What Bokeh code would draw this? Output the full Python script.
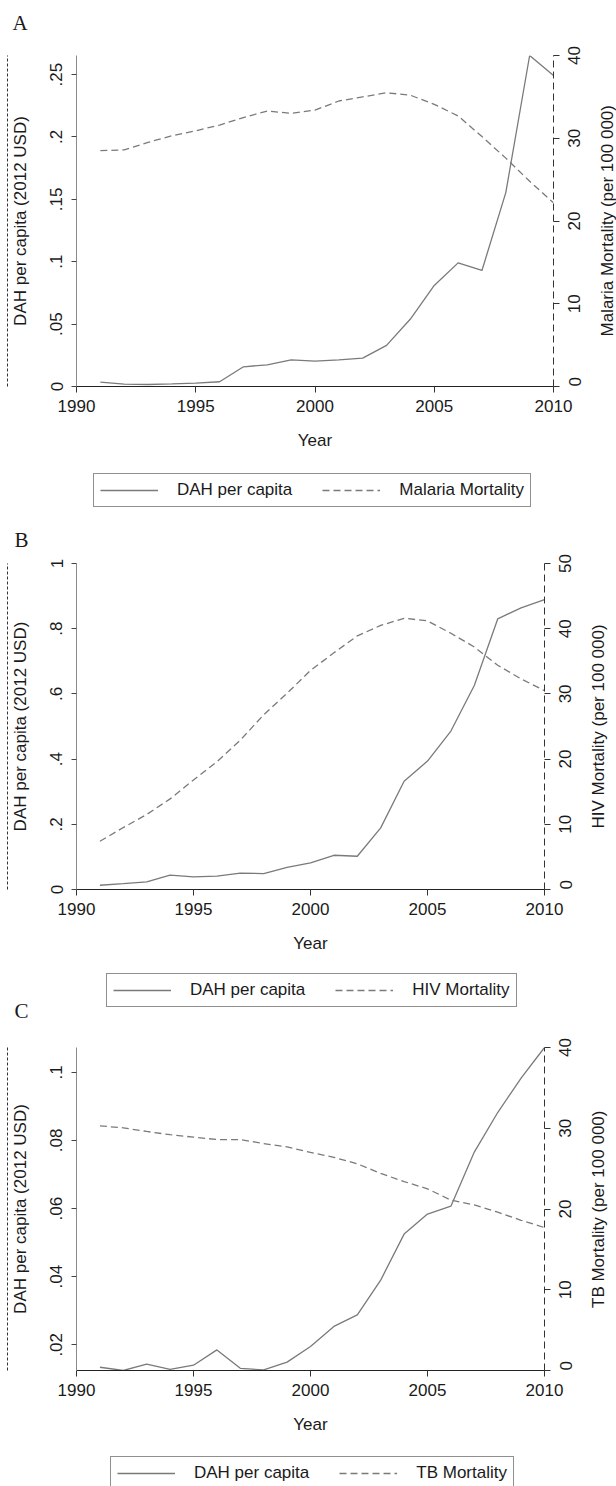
import math
from bokeh.plotting import figure
from bokeh.models import (Range1d, LinearAxis, FixedTicker, Legend, LegendItem, Title)
from bokeh.layouts import column
from bokeh.embed import file_html
from bokeh.resources import INLINE

# ---------------- data ----------------
years = list(range(1991, 2011))

dah_malaria = [0.0035, 0.0019, 0.0016, 0.0021, 0.0027, 0.0038, 0.0158, 0.0174, 0.0214, 0.0204,
               0.0214, 0.0228, 0.0330, 0.0541, 0.0810, 0.0991, 0.0930, 0.1554, 0.2653, 0.2492]
mort_malaria = [28.5, 28.6, 29.5, 30.3, 30.9, 31.6, 32.5, 33.3, 33.0, 33.4,
                34.5, 35.0, 35.5, 35.2, 34.1, 32.7, 30.2, 27.6, 24.8, 22.2]

dah_hiv = [0.013, 0.018, 0.0235, 0.044, 0.039, 0.041, 0.050, 0.049, 0.068, 0.082,
           0.105, 0.102, 0.189, 0.332, 0.394, 0.486, 0.626, 0.830, 0.864, 0.889]
mort_hiv = [7.4, 9.5, 11.5, 13.9, 16.8, 19.6, 22.9, 26.8, 30.1, 33.6,
            36.3, 38.9, 40.5, 41.6, 41.2, 39.3, 37.2, 34.4, 32.3, 30.5]

dah_tb = [0.0134, 0.01245, 0.0143, 0.0128, 0.0140, 0.0185, 0.0131, 0.0126, 0.0149, 0.0195,
          0.0254, 0.0288, 0.0390, 0.0525, 0.0584, 0.0607, 0.0766, 0.0882, 0.0983, 0.1073]
mort_tb = [30.3, 30.05, 29.6, 29.2, 28.9, 28.6, 28.6, 28.1, 27.7, 27.0,
           26.4, 25.6, 24.4, 23.4, 22.5, 21.1, 20.5, 19.6, 18.6, 17.7]

x_ticks = [1990, 1995, 2000, 2005, 2010]

left_ticks_a = [0, 0.05, 0.1, 0.15, 0.2, 0.25]
left_labels_a = ["0", ".05", ".1", ".15", ".2", ".25"]
left_ticks_b = [0, 0.2, 0.4, 0.6, 0.8, 1.0]
left_labels_b = ["0", ".2", ".4", ".6", ".8", "1"]
left_ticks_c = [0.02, 0.04, 0.06, 0.08, 0.1]
left_labels_c = [".02", ".04", ".06", ".08", ".1"]

right_ticks_a = [0, 10, 20, 30, 40]
right_ticks_b = [0, 10, 20, 30, 40, 50]
right_ticks_c = [0, 10, 20, 30, 40]

FONT = "'Liberation Sans', Arial, sans-serif"
SERIF = "'Liberation Serif', 'Times New Roman', serif"
TXT = "#1a1a1a"
LINE = "#7a7a7a"
FS = 17                      # text size in px
DIGIT_W = 0.556 * FS         # width of one digit
W = 616
FRAME_LEFT = 76              # plot frames are aligned by the column layout


def strip(height, border_bottom):
    """Borderless strip for a legend and/or a panel letter."""
    p = figure(width=W, height=height, x_range=Range1d(1990, 2010),
               y_range=Range1d(-2, -1), min_border_left=0, min_border_right=0,
               min_border_top=0, min_border_bottom=border_bottom,
               x_axis_location=None, y_axis_location=None,
               output_backend="svg", toolbar_location=None)
    p.outline_line_color = None
    p.xgrid.visible = False
    p.ygrid.visible = False
    p.title.text = ""
    return p


def add_letter(p, text, x, standoff):
    t = Title(text=text, align="left", offset=x - FRAME_LEFT,
              standoff=standoff, vertical_align="top", text_font=SERIF,
              text_font_size="21px", text_font_style="normal",
              text_color=TXT)
    p.add_layout(t, "below")


def add_legend(p, dah, mort, mort_name, left, bottom_from_frame_bottom):
    # the series are drawn again here, outside the visible y window,
    # so that the legend can show their line styles
    d1 = p.line(years, dah, line_color=LINE, line_width=1.3)
    d2 = p.line(years, mort, line_color=LINE, line_width=1.3, line_dash="7 4")
    lg = Legend(items=[LegendItem(label="DAH per capita", renderers=[d1]),
                       LegendItem(label=mort_name, renderers=[d2])],
                location=(left - FRAME_LEFT, bottom_from_frame_bottom),
                orientation="horizontal")
    lg.border_line_color = "#222222"
    lg.border_line_width = 1
    lg.background_fill_color = "white"
    lg.background_fill_alpha = 1.0
    lg.padding = 6
    lg.spacing = 30
    lg.label_standoff = 19
    lg.glyph_width = 58
    lg.glyph_height = 16
    lg.label_height = 16
    lg.margin = 0
    lg.label_text_font = FONT
    lg.label_text_font_size = f"{FS}px"
    lg.label_text_color = TXT
    p.add_layout(lg)


def make_panel(dah, mort, right_label, lrange, lticks, llabels,
               rmax, rticks, frame_h, frame_w, b_top, title_len_px):
    p = figure(width=W, height=400,
               frame_width=frame_w, frame_height=frame_h,
               x_range=Range1d(1990, 2010), y_range=Range1d(*lrange),
               min_border_left=FRAME_LEFT, min_border_right=63,
               min_border_top=b_top, min_border_bottom=75,
               output_backend="svg", toolbar_location=None)
    p.outline_line_color = None
    p.xgrid.visible = False
    p.ygrid.visible = False
    p.title.text = ""
    p.extra_y_ranges = {"right": Range1d(0, rmax)}
    ppu = frame_h / rmax

    p.line(years, dah, line_color=LINE, line_width=1.3)
    p.line(years, mort, y_range_name="right", line_color=LINE,
           line_width=1.3, line_dash="7 4")

    # ---- bottom axis
    xa = p.xaxis[0]
    xa.ticker = FixedTicker(ticks=x_ticks, minor_ticks=[])
    xa.axis_label = "Year"
    xa.axis_line_color = "#222222"
    xa.major_tick_line_color = "#333333"
    xa.major_tick_out = 6
    xa.major_tick_in = 0
    xa.minor_tick_line_color = None
    xa.major_label_standoff = 7
    xa.axis_label_standoff = 16
    xa.major_label_text_font = FONT
    xa.major_label_text_font_size = f"{FS}px"
    xa.major_label_text_color = TXT
    xa.axis_label_text_font = FONT
    xa.axis_label_text_font_size = f"{FS}px"
    xa.axis_label_text_font_style = "normal"
    xa.axis_label_text_color = TXT

    # ---- left axis
    ya = p.yaxis[0]
    ya.ticker = FixedTicker(ticks=lticks, minor_ticks=[])
    ya.major_label_overrides = {t: l for t, l in zip(lticks, llabels)}
    ya.major_label_orientation = "vertical"
    ya.axis_label = "DAH per capita (2012 USD)"
    ya.axis_line_color = "#8a8a8a"
    ya.major_tick_line_color = "#444444"
    ya.major_tick_out = 5
    ya.major_tick_in = 0
    ya.minor_tick_line_color = None
    ya.major_label_standoff = 9
    ya.axis_label_standoff = 18
    ya.major_label_text_font = FONT
    ya.major_label_text_font_size = f"{FS}px"
    ya.major_label_text_color = TXT
    ya.axis_label_text_font = FONT
    ya.axis_label_text_font_size = f"{FS}px"
    ya.axis_label_text_font_style = "normal"
    ya.axis_label_text_color = TXT

    # dotted rule at the far left (outer, empty axis)
    da = LinearAxis(ticker=FixedTicker(ticks=[], minor_ticks=[]))
    da.axis_line_color = "#333333"
    da.axis_line_dash = "3 2"
    da.major_tick_out = 0
    da.major_tick_in = 0
    da.minor_tick_out = 0
    da.minor_tick_in = 0
    da.major_label_standoff = 0
    da.major_label_text_font_size = "0px"
    p.add_layout(da, "left")

    # ---- right axis: dashed rule + ticks
    ra = LinearAxis(y_range_name="right",
                    ticker=FixedTicker(ticks=rticks, minor_ticks=[]))
    ra.axis_line_color = "#333333"
    ra.axis_line_dash = "7 4"
    ra.major_tick_line_color = "#333333"
    ra.major_tick_out = 6
    ra.major_tick_in = 0
    ra.minor_tick_line_color = None
    ra.major_label_standoff = 0
    ra.major_label_overrides = {t: "" for t in rticks}
    p.add_layout(ra, "right")

    # ---- right tick labels, reading bottom-to-top, centred on the ticks
    shifted = []
    for t in rticks:
        s = round(t - len(str(t)) * DIGIT_W / 2 / ppu, 3)
        shifted.append(s if s >= 0 else t)
    rl = LinearAxis(y_range_name="right",
                    ticker=FixedTicker(ticks=shifted, minor_ticks=[]))
    rl.major_label_overrides = {s: str(t) for s, t in zip(shifted, rticks)}
    rl.major_label_orientation = math.pi / 2
    rl.axis_line_color = None
    rl.major_tick_line_color = None
    rl.major_tick_out = 0
    rl.major_tick_in = 0
    rl.minor_tick_line_color = None
    rl.major_label_standoff = 15
    rl.major_label_text_font = FONT
    rl.major_label_text_font_size = f"{FS}px"
    rl.major_label_text_color = TXT
    p.add_layout(rl, "right")

    # ---- right axis title, reading bottom-to-top, centred on the frame
    start_v = round(rmax / 2 - (title_len_px / 2) / ppu, 3)
    rt = LinearAxis(y_range_name="right",
                    ticker=FixedTicker(ticks=[start_v], minor_ticks=[]))
    rt.major_label_overrides = {start_v: right_label}
    rt.major_label_orientation = math.pi / 2
    rt.axis_line_color = None
    rt.major_tick_line_color = None
    rt.major_tick_out = 0
    rt.major_tick_in = 0
    rt.minor_tick_line_color = None
    rt.major_label_standoff = 18
    rt.major_label_text_font = FONT
    rt.major_label_text_font_size = f"{FS}px"
    rt.major_label_text_color = TXT
    p.add_layout(rt, "right")
    return p


# header with the letter A (page y 0-40)
hdr = strip(40, 30)
add_letter(hdr, "A", 12, 0)

# panel A (page y 40-461): frame 55-386
pa = make_panel(dah_malaria, mort_malaria, "Malaria Mortality (per 100 000)",
                (0, max(dah_malaria)), left_ticks_a, left_labels_a,
                40, right_ticks_a, frame_h=331, frame_w=477, b_top=15,
                title_len_px=231)

# legend A + letter B (page y 461-552)
la = strip(91, 22)
add_legend(la, dah_malaria, mort_malaria, "Malaria Mortality", 93, 530 - 508)
add_letter(la, "B", 14, -3.2)

# panel B (page y 552-964): frame 563-889
pb = make_panel(dah_hiv, mort_hiv, "HIV Mortality (per 100 000)",
                (0, 1), left_ticks_b, left_labels_b,
                50, right_ticks_b, frame_h=326, frame_w=468, b_top=11,
                title_len_px=204)

# legend B + letter C (page y 964-1034)
lb = strip(70, 26)
add_legend(lb, dah_hiv, mort_hiv, "HIV Mortality", 106, 1008 - 1007)
add_letter(lb, "C", 14, -20)

# panel C (page y 1034-1445): frame 1047-1370
pc = make_panel(dah_tb, mort_tb, "TB Mortality (per 100 000)",
                (min(dah_tb), max(dah_tb)), left_ticks_c, left_labels_c,
                40, right_ticks_c, frame_h=323, frame_w=468, b_top=13,
                title_len_px=198)

# legend C (page y 1445-1486), cut by the bottom edge like the original
lc = strip(41, 0)
add_legend(lc, dah_tb, mort_tb, "TB Mortality", 110, 1486 - 1490)

layout = column(hdr, pa, la, pb, lb, pc, lc, spacing=0)

with open("out.html", "w") as f:
    f.write(file_html(layout, INLINE))
